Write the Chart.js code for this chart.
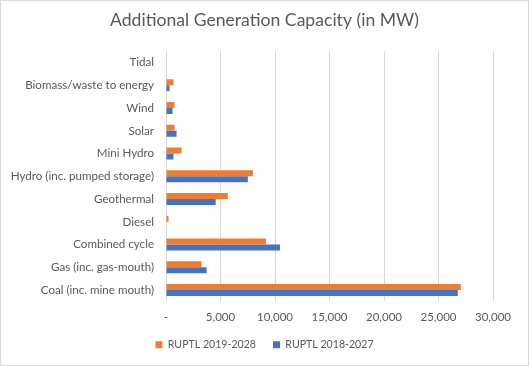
<!DOCTYPE html>
<html>
<head>
<meta charset="utf-8">
<script src="https://cdn.jsdelivr.net/npm/chart.js@4.4.1/dist/chart.umd.min.js"></script>
<style>
    html, body { margin: 0; padding: 0; background: #fff; }
    .frame {
        width: 529px;
        height: 366px;
        box-sizing: border-box;
        border: 1px solid #d9d9d9;
        position: relative;
    }
    .frame canvas { position: absolute; left: 0; top: 0; }
</style>
</head>
<body>
<div class="frame">
    <canvas class="capacity-chart" width="527" height="364"></canvas>
</div>
<script>
const categories = [
    'Tidal',
    'Biomass/waste to energy',
    'Wind',
    'Solar',
    'Mini Hydro',
    'Hydro (inc. pumped storage)',
    'Geothermal',
    'Diesel',
    'Combined cycle',
    'Gas (inc. gas-mouth)',
    'Coal (inc. mine mouth)'
];
const ruptl2019 = [0, 690, 780, 780, 1430, 7970, 5670, 230, 9170, 3270, 27050];
const ruptl2018 = [0, 320, 600, 970, 690, 7510, 4560, 0, 10460, 3730, 26770];
const xTicks = [0, 5000, 10000, 15000, 20000, 25000, 30000];

const textColor = '#595959';
const ctx = document.querySelector('.capacity-chart');

new Chart(ctx, {
    type: 'bar',
    data: {
        labels: categories,
        datasets: [{
            label: 'RUPTL 2019-2028',
            data: ruptl2019,
            backgroundColor: '#ED7D31',
            categoryPercentage: 0.53,
            barPercentage: 1
        },
        {
            label: 'RUPTL 2018-2027',
            data: ruptl2018,
            backgroundColor: '#4472C4',
            categoryPercentage: 0.53,
            barPercentage: 1
        }
        ]
    },
    options: {
        indexAxis: 'y',
        responsive: false,
        animation: false,
        layout: {
            padding: { left: 0, right: 0, top: 0, bottom: 5 }
        },
        scales: {
            x: {
                min: 0,
                max: 30000,
                afterBuildTicks: function (scale) {
                    scale.ticks = xTicks.map(v => ({ value: v }));
                },
                afterFit: function (scale) {
                    scale.height = 21;
                },
                grid: {
                    color: '#d9d9d9',
                    drawTicks: false
                },
                border: { display: false },
                ticks: {
                    padding: 9,
                    color: textColor,
                    font: { family: 'Lato', size: 11.5 },
                    callback: function (value) {
                        return value === 0 ? '-' : value.toLocaleString('en-US');
                    }
                }
            },
            y: {
                afterFit: function (scale) {
                    scale.width = 165;
                },
                grid: { display: false, drawTicks: false },
                border: { display: false },
                ticks: {
                    padding: 12,
                    color: textColor,
                    font: { family: 'Lato', size: 11.6 }
                }
            },
            // empty right-hand spacer so the legend stays centred on the whole canvas
            spacer: {
                type: 'category',
                axis: 'y',
                position: 'right',
                afterFit: function (scale) {
                    scale.width = 35;
                },
                grid: { display: false, drawTicks: false },
                border: { display: false },
                ticks: { display: false }
            }
        },
        plugins: {
            title: {
                display: true,
                text: 'Additional Generation Capacity (in MW)',
                color: textColor,
                font: { family: 'Lato', size: 17.6, weight: 'normal' },
                padding: { top: 9, bottom: 20 }
            },
            legend: {
                position: 'bottom',
                labels: {
                    boxWidth: 7,
                    boxHeight: 7,
                    padding: 17,
                    color: textColor,
                    font: { family: 'Lato', size: 10.6 }
                }
            },
            tooltip: { enabled: false }
        }
    }
});
</script>
</body>
</html>
